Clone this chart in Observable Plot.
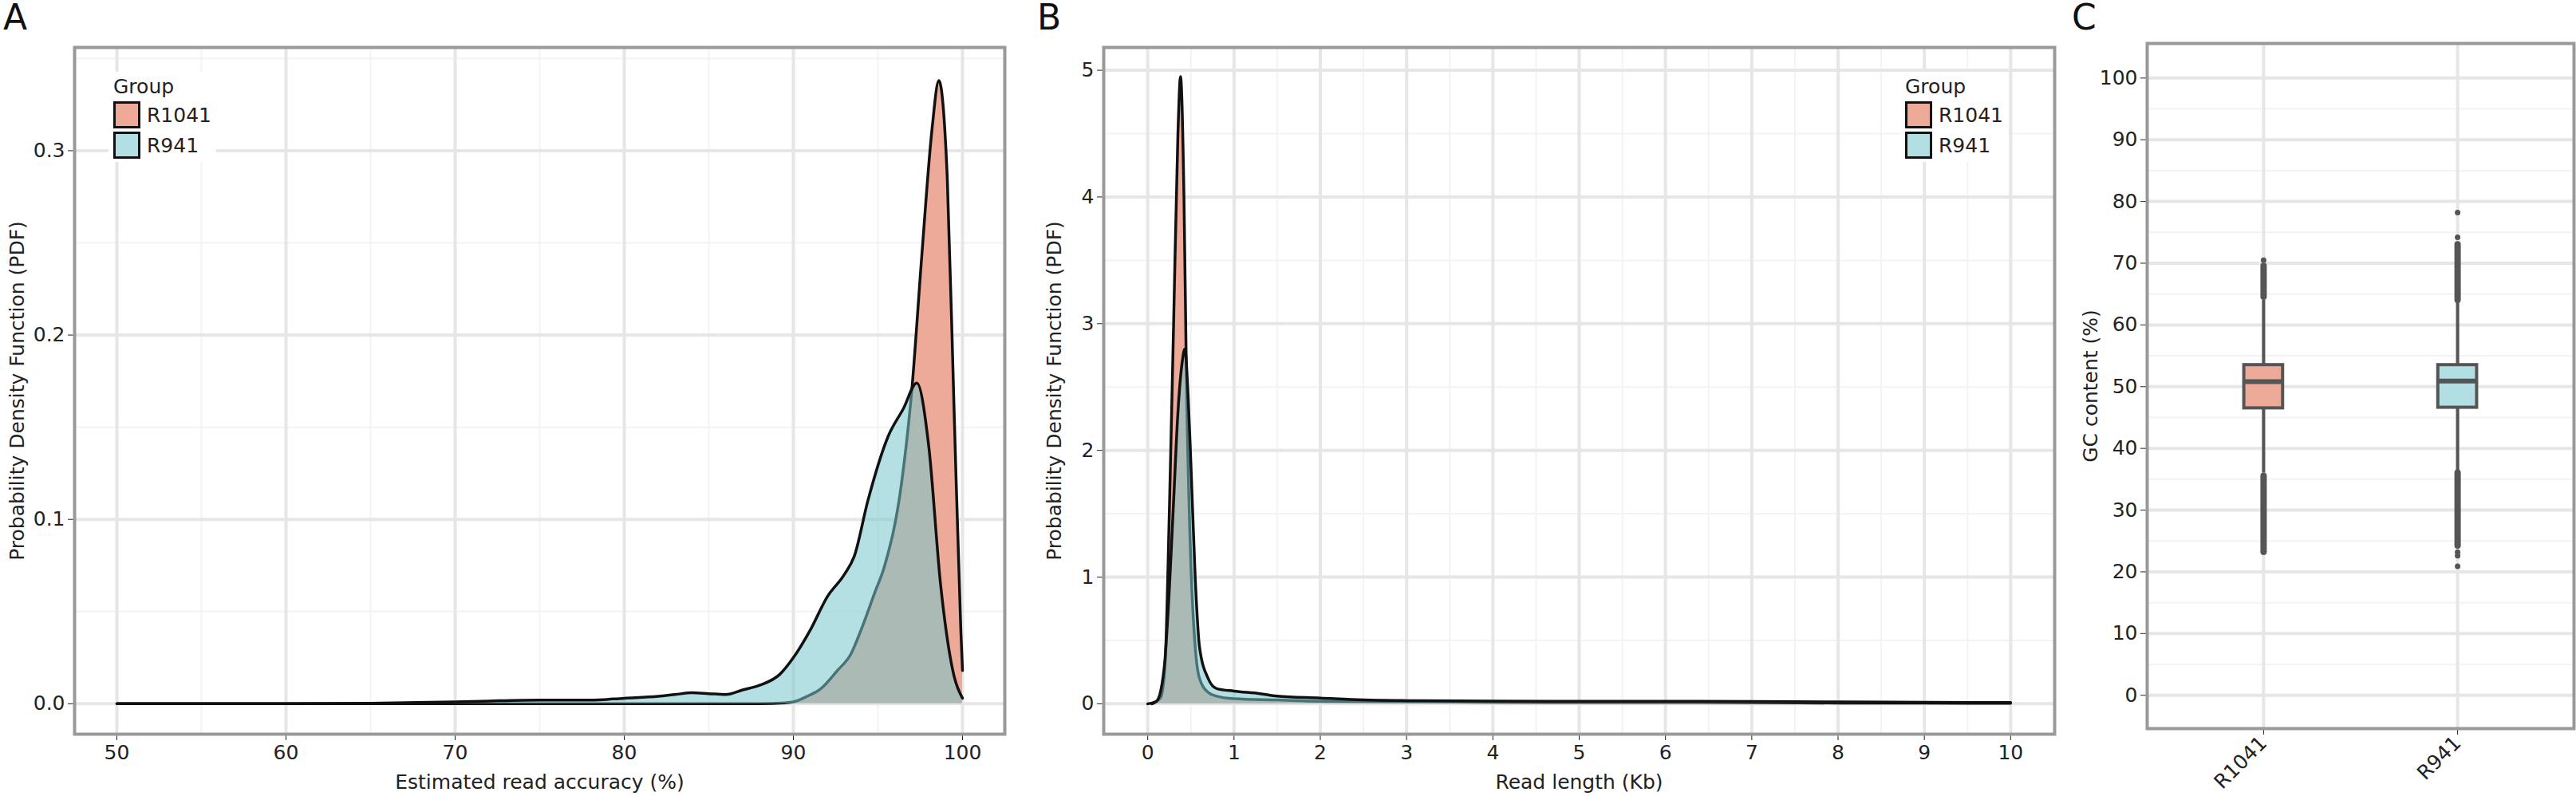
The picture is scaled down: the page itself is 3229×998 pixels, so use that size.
<!DOCTYPE html>
<html><head><meta charset="utf-8">
<script src="https://cdn.jsdelivr.net/npm/d3@7"></script>
<script src="https://cdn.jsdelivr.net/npm/@observablehq/plot@0.6"></script>
<style>
body{margin:0;background:#fff;font-family:"DejaVu Sans",sans-serif;}
#page{position:relative;width:3229px;height:998px;}
.panel{position:absolute;top:0;}
.letter{position:absolute;top:-4px;font-size:44px;color:#111;}
.legend{position:absolute;background:#fff;font-size:25px;color:#222;padding:4px 6px;}
.key{display:flex;align-items:center;gap:8px;margin-top:4px;}
.sw{width:34px;height:34px;border:3px solid #111;box-sizing:border-box;}
</style></head><body><div id="page"></div>
<script>
// colours
const redFill = "#EDAA98", blueFill = "#77C7CE", blueOpacity = 0.55;
const groups = ["R1041", "R941"];

// Panel A: estimated read accuracy (%) densities
const accX1041 = [50, 60, 70, 80, 88, 89.5, 90, 90.8, 91.6, 92.6, 93.4, 94, 94.8, 95.4, 96.4, 97, 97.6, 98.2, 98.6, 99.1, 99.5, 99.9, 100];
const accY1041 = [0, 0, 0, 0, 0, 0.0005, 0.001, 0.004, 0.008, 0.018, 0.027, 0.04, 0.06, 0.075, 0.12, 0.17, 0.244, 0.312, 0.338, 0.285, 0.16, 0.04, 0.018];
const accX941 = [50, 60, 65, 70, 72, 75, 78, 80, 82, 83, 84, 85, 86, 87, 88, 89.2, 90, 91, 92, 93, 93.6, 94.4, 95.6, 96.5, 97.3, 98, 98.7, 99.5, 100];
const accY941 = [0, 0, 0.0003, 0.001, 0.0015, 0.002, 0.002, 0.003, 0.004, 0.005, 0.006, 0.0055, 0.005, 0.0075, 0.01, 0.016, 0.025, 0.04, 0.058, 0.07, 0.08, 0.11, 0.145, 0.16, 0.174, 0.14, 0.065, 0.015, 0.003];

// Panel B: read length (Kb) densities
const lenX1041 = [0.05, 0.15, 0.2, 0.25, 0.3, 0.35, 0.38, 0.42, 0.45, 0.5, 0.55, 0.6, 0.7, 0.8, 1, 1.5, 2, 3, 4, 5, 6, 7, 8, 9, 10];
const lenY1041 = [0, 0.05, 0.3, 1.5, 3.0, 4.5, 4.95, 4.0, 2.5, 1.1, 0.45, 0.2, 0.09, 0.06, 0.04, 0.03, 0.02, 0.015, 0.012, 0.01, 0.01, 0.008, 0.006, 0.005, 0.004];
const lenX941 = [0, 0.1, 0.15, 0.2, 0.25, 0.3, 0.35, 0.4, 0.43, 0.47, 0.5, 0.55, 0.6, 0.7, 0.8, 1, 1.3, 1.5, 2, 2.5, 3, 4, 5, 6, 7, 8, 9, 10];
const lenY941 = [0, 0.02, 0.1, 0.35, 0.9, 1.6, 2.3, 2.7, 2.8, 2.4, 1.9, 1.0, 0.45, 0.2, 0.12, 0.1, 0.08, 0.06, 0.045, 0.03, 0.025, 0.022, 0.02, 0.02, 0.018, 0.015, 0.012, 0.01];

// Panel C: GC content (%) boxplots
const gcQ1 = [46.5, 46.6], gcMedian = [50.8, 50.9], gcQ3 = [53.5, 53.5];
const gcWhiskerLow = [36, 36.4], gcWhiskerHigh = [64, 63.7];
const gcDenseLow = [[23.2, 35.5], [24.2, 36]], gcDenseHigh = [[64.5, 69.5], [64, 73]];
const gcOutliers = [[70.5, 23.2], [74.2, 78.2, 23.2, 22.6, 20.9]];

const page = document.getElementById("page");
const gridMajor = "#E6E6E6", gridMinor = "#F3F3F3";
const fontStyle = {fontFamily: "DejaVu Sans, sans-serif", fontSize: "25px", color: "#222", background: "#fff"};

function place(el, left) { el.classList.add("panel"); el.style.left = left + "px"; page.appendChild(el); }
function zip(xs, ys) { return xs.map((x, i) => ({x, y: ys[i]})); }

function densityPlot({xDomain, yDomain, xMajor, xMinor, yMajor, yMinor, xLabel, d1041, d941, width, ml, mr, yFormat}) {
  return Plot.plot({
    width, height: 998, marginLeft: ml, marginRight: mr, marginTop: 59, marginBottom: 78,
    style: fontStyle,
    x: {domain: xDomain}, y: {domain: yDomain},
    marks: [
      Plot.gridX(xMinor, {stroke: gridMinor, strokeOpacity: 1, strokeWidth: 2}),
      Plot.gridY(yMinor, {stroke: gridMinor, strokeOpacity: 1, strokeWidth: 2}),
      Plot.gridX(xMajor, {stroke: gridMajor, strokeOpacity: 1, strokeWidth: 4}),
      Plot.gridY(yMajor, {stroke: gridMajor, strokeOpacity: 1, strokeWidth: 4}),
      Plot.areaY(d1041, {x: "x", y: "y", fill: redFill, curve: "monotone-x"}),
      Plot.lineY(d1041, {x: "x", y: "y", stroke: "#111", strokeWidth: 3.5, curve: "monotone-x"}),
      Plot.areaY(d941, {x: "x", y: "y", fill: blueFill, fillOpacity: blueOpacity, curve: "monotone-x"}),
      Plot.lineY(d941, {x: "x", y: "y", stroke: "#111", strokeWidth: 3.5, curve: "monotone-x"}),
      Plot.axisX(xMajor, {tickSize: 8, tickPadding: 6, label: xLabel, labelAnchor: "center", labelArrow: "none", labelOffset: 68}),
      Plot.axisY(yMajor, {tickSize: 8, tickPadding: 4, tickFormat: yFormat, label: "Probability Density Function (PDF)", labelAnchor: "center", labelArrow: "none", labelOffset: ml - 12}),
      Plot.frame({stroke: "#999", strokeWidth: 4})
    ]
  });
}

function legend(left, top) {
  const d = document.createElement("div");
  d.className = "legend";
  d.style.left = left + "px"; d.style.top = top + "px";
  d.innerHTML = `<div>Group</div>` + groups.map((g, i) =>
    `<div class="key"><div class="sw" style="background:${i ? "#B1DFE4" : redFill}"></div>${g}</div>`).join("");
  page.appendChild(d);
}
function letter(t, left) {
  const d = document.createElement("div"); d.className = "letter"; d.textContent = t; d.style.left = left + "px"; page.appendChild(d);
}

// A
place(densityPlot({
  xDomain: [47.5, 102.5], yDomain: [-0.0165, 0.356],
  xMajor: d3.range(50, 101, 10), xMinor: d3.range(55, 100, 10),
  yMajor: [0, 0.1, 0.2, 0.3], yMinor: [0.05, 0.15, 0.25, 0.35],
  xLabel: "Estimated read accuracy (%)", yFormat: d3.format(".1f"),
  d1041: zip(accX1041, accY1041), d941: zip(accX941, accY941), width: 1290, ml: 93, mr: 31
}), 0);
legend(136, 90);
letter("A", 4);

// B
place(densityPlot({
  xDomain: [-0.51, 10.51], yDomain: [-0.24, 5.18],
  xMajor: d3.range(0, 11), xMinor: d3.range(0.5, 10, 1),
  yMajor: [0, 1, 2, 3, 4, 5], yMinor: [0.5, 1.5, 2.5, 3.5, 4.5],
  xLabel: "Read length (Kb)", yFormat: d3.format("d"),
  d1041: zip(lenX1041, lenY1041), d941: zip(lenX941, lenY941), width: 1290, ml: 83, mr: 15
}), 1300);
legend(2382, 90);
letter("B", 1300);

// C
const boxes = groups.map((g, i) => ({pos: i + 1, g, q1: gcQ1[i], med: gcMedian[i], q3: gcQ3[i], lo: gcWhiskerLow[i], hi: gcWhiskerHigh[i]}));
const dense = groups.flatMap((g, i) => [gcDenseLow[i], gcDenseHigh[i]].map(([a, b]) => ({pos: i + 1, a, b})));
const outl = groups.flatMap((g, i) => gcOutliers[i].map(v => ({pos: i + 1, v})));
const cPlot = Plot.plot({
  width: 629, height: 998, marginLeft: 91, marginRight: 3, marginTop: 54, marginBottom: 85,
  style: fontStyle,
  x: {domain: [0.4, 2.6]}, y: {domain: [-5.4, 105.6]},
  marks: [
    Plot.gridY(d3.range(5, 101, 10), {stroke: gridMinor, strokeOpacity: 1, strokeWidth: 2}),
    Plot.gridY(d3.range(0, 101, 10), {stroke: gridMajor, strokeOpacity: 1, strokeWidth: 4}),
    Plot.gridX([1, 2], {stroke: gridMajor, strokeOpacity: 1, strokeWidth: 4}),
    Plot.ruleX(boxes, {x: "pos", y1: "lo", y2: "hi", stroke: "#555", strokeWidth: 4}),
    Plot.ruleX(dense, {x: "pos", y1: "a", y2: "b", stroke: "#555", strokeWidth: 8, strokeLinecap: "round"}),
    Plot.dot(outl, {x: "pos", y: "v", r: 3.5, fill: "#555"}),
    Plot.rect(boxes, {x1: d => d.pos - 0.1, x2: d => d.pos + 0.1, y1: "q1", y2: "q3", fill: (d, i) => i ? "#B1DFE4" : redFill, stroke: "#555", strokeWidth: 4}),
    Plot.ruleY(boxes, {x1: d => d.pos - 0.1, x2: d => d.pos + 0.1, y: "med", stroke: "#555", strokeWidth: 6}),
    Plot.axisX([1, 2], {tickSize: 8, tickFormat: d => groups[d - 1], tickRotate: -45, tickPadding: 6, label: null}),
    Plot.axisY(d3.range(0, 101, 10), {tickSize: 8, tickPadding: 4, label: "GC content (%)", labelAnchor: "center", labelArrow: "none", labelOffset: 80}),
    Plot.frame({stroke: "#999", strokeWidth: 4})
  ]
});
place(cPlot, 2600);
letter("C", 2597);
</script></body></html>
